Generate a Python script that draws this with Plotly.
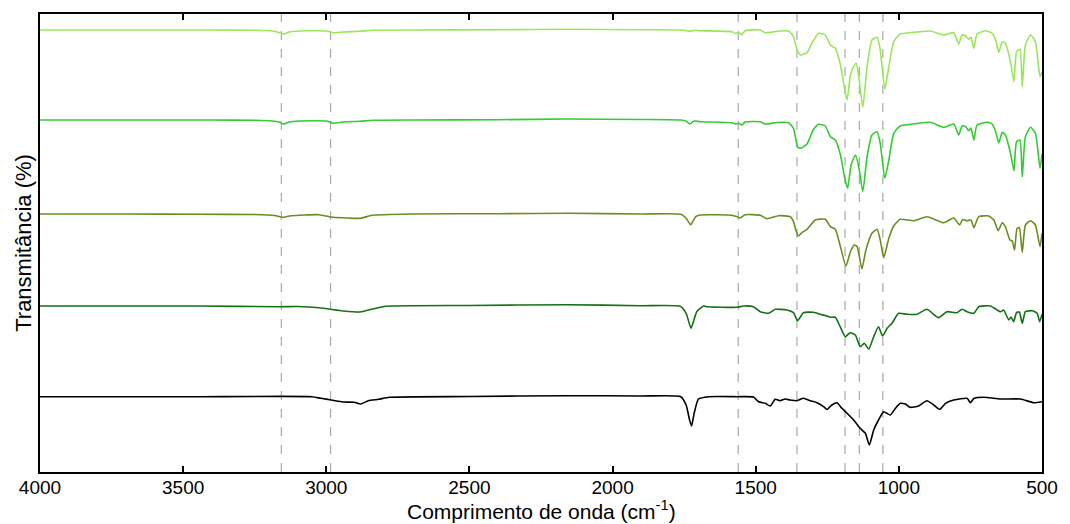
import plotly.graph_objects as go

# Wavenumber (cm-1) / stacked transmittance (arbitrary offset units) pairs
spec_1 = [(4000,442),(3700,442),(3400,442),(3250,441.7),(3190,441),(3165,439.5),(3148,438),(3130,440),(3092,441),(3040,441.3),(2999,441),(2976,439.3),(2941,440),(2883,440.7),(2836,441.7),(2700,442),(2400,442.3),(2160,442.7),(1900,442.3),(1760,442),(1745,441.5),(1729,440.8),(1712,441.8),(1694,441.3),(1583,440.3),(1572,438.7),(1560,439.5),(1548,437.3),(1537,441.3),(1484,442),(1467,439.3),(1426,440.7),(1385,441),(1368,435.3),(1356,422.7),(1344,417),(1321,419.3),(1304,428.7),(1280,438.7),(1257,437),(1239,427),(1222,423.7),(1204,407),(1190,383.7),(1181,372),(1169,397),(1158,405.3),(1149,408.7),(1140,395.3),(1126,364.7),(1111,405.3),(1094,432),(1076,434.7),(1065,422),(1049,383),(1035,405.3),(1018,430.3),(995,438),(936,440),(890,441),(843,437),(808,439.3),(791,428),(779,437),(767,436),(756,432.7),(748,434.7),(738,423.7),(727,438),(697,441.3),(674,438.7),(662,432),(651,419.7),(639,430.3),(628,428.7),(610,410.3),(598,390.3),(589,420.3),(577,422.7),(569,385.3),(558,427),(540,437),(523,430.3),(507,395.3),(500,400)]

spec_2 = [(4000,352),(3700,352),(3400,352),(3250,351.7),(3190,351),(3165,350),(3150,348),(3130,350),(3092,351),(3040,351.3),(2999,351),(2976,348.7),(2941,350),(2883,350.7),(2836,351.7),(2700,352),(2400,352.3),(2160,353),(1900,352.5),(1760,352),(1745,351),(1730,348),(1715,351),(1694,350.3),(1583,349.3),(1572,348),(1560,348.7),(1548,347),(1537,350),(1484,350.3),(1467,348),(1426,349.5),(1385,349.3),(1368,343.7),(1354,325.3),(1344,323.7),(1321,328),(1298,342.7),(1280,347.7),(1257,346),(1239,335.3),(1222,332),(1204,317),(1190,295.3),(1179,283.7),(1167,307),(1152,317),(1140,305.3),(1126,280.3),(1111,315.3),(1094,337),(1076,340.3),(1065,328.7),(1049,293.7),(1035,312),(1018,338.7),(995,346),(936,348.5),(890,349.7),(843,344.7),(808,348),(791,337),(779,346),(767,345.5),(756,341.3),(748,344),(738,332),(727,347),(691,349.7),(674,348),(662,340.3),(651,329.3),(639,339.7),(628,337),(610,318.7),(598,301),(589,330.3),(577,332),(569,295.3),(558,335.3),(540,344.7),(523,338.7),(507,303.7),(500,318)]

spec_3 = [(4000,258),(3700,258),(3442,257.7),(3250,257.5),(3180,256.5),(3154,254.7),(3123,256.3),(3025,257.3),(2976,254.7),(2927,254),(2880,253.7),(2841,256.7),(2706,258),(2400,258.3),(2154,258.7),(1900,258),(1761,257.7),(1743,253.7),(1727,247.3),(1710,255.3),(1694,257),(1583,256.7),(1566,255.3),(1554,254),(1537,257.3),(1484,256.7),(1461,253.3),(1420,256.3),(1379,255.3),(1368,250.3),(1352,236),(1339,239.3),(1321,242.7),(1292,252),(1257,252.7),(1239,245.3),(1222,242.7),(1204,225.3),(1185,206),(1169,220.3),(1156,227),(1146,225.5),(1138,215.3),(1129,203),(1115,222),(1094,238.7),(1076,242.7),(1065,232),(1053,214.3),(1035,233.7),(1018,246),(995,252.7),(948,251.3),(901,255.3),(843,249.3),(808,254),(788,247),(777,252.5),(762,251.3),(748,252),(738,244.3),(721,255.3),(686,256),(668,252),(653,241.3),(639,249.3),(628,245.3),(612,232),(604,231),(596,222),(587,243.7),(579,244.5),(569,219.7),(558,247),(540,251.3),(523,247),(507,225.3),(500,238.7)]

spec_4 = [(4000,166),(3700,166),(3442,166),(3160,165.3),(3100,165.5),(3025,164.3),(2939,161),(2882,160),(2841,162.7),(2792,165.7),(2500,166.5),(2160,167.3),(1900,166.3),(1764,165.7),(1743,158.7),(1726,143.7),(1706,160.3),(1682,166),(1671,165.3),(1566,164.7),(1543,166),(1508,165.3),(1484,160.3),(1455,158.7),(1432,162.7),(1391,162),(1368,159.3),(1354,151.3),(1333,159.3),(1298,159.7),(1274,157.7),(1251,156),(1240,154.7),(1222,154.7),(1205,145.3),(1187,135.3),(1170,139.3),(1152,137),(1135,125.3),(1121,128.7),(1105,123),(1088,135.3),(1071,145.3),(1057,136),(1041,143.7),(1024,148.7),(1001,158.7),(971,157.7),(937,157.7),(902,162.7),(861,154.3),(832,160.3),(797,159.3),(779,162.7),(762,160.3),(738,158.7),(721,165.3),(680,166),(645,160.3),(634,162),(616,152),(608,155),(599,150.3),(589,159.3),(579,160),(569,148.7),(558,160.3),(534,161.3),(517,158.7),(508,150.3),(500,157.7)]

spec_5 = [(4000,75.3),(3700,75.3),(3442,75.3),(3050,75.3),(3019,73.7),(2982,72),(2939,70),(2902,69.7),(2880,68),(2853,71.3),(2817,72.7),(2780,74.7),(2500,75.5),(2160,76.3),(1900,76),(1762,75.3),(1743,67),(1731,52),(1724,46),(1715,58.7),(1700,73),(1664,75.3),(1566,75.3),(1508,75),(1490,70.3),(1467,68.7),(1449,66),(1432,72.7),(1415,71.3),(1397,73),(1380,72),(1356,71.3),(1333,73.7),(1310,71.3),(1286,69.3),(1263,65.3),(1251,62.5),(1234,67),(1216,69.3),(1199,63.7),(1181,58.7),(1158,52),(1135,43.7),(1117,38.7),(1103,27),(1088,42),(1071,52),(1053,60.3),(1030,57),(1012,63.7),(995,68.7),(977,68),(962,64.7),(931,66),(902,71.3),(878,67),(857,62.7),(837,68.7),(808,72),(762,73.7),(750,69.3),(738,73.5),(703,74.7),(645,73),(575,73),(529,69.3),(500,70.3)]

series = [spec_1, spec_2, spec_3, spec_4, spec_5]
colors = ["#9be65a", "#33cc33", "#6b8e23", "#137313", "#000000"]

band_positions = [3157, 2985, 1561, 1356, 1188, 1138, 1056]
x_ticks = [4000, 3500, 3000, 2500, 2000, 1500, 1000, 500]
x_title = "Comprimento de onda (cm<sup>-1</sup>)"
y_title = "Transmitância (%)"

fig = go.Figure()
for s, c in zip(series, colors):
    fig.add_trace(go.Scatter(
        x=[p[0] for p in s], y=[p[1] for p in s], mode="lines",
        line=dict(color=c, width=1.6, shape="spline", smoothing=0.5),
        showlegend=False, hoverinfo="skip"))

for b in band_positions:
    fig.add_shape(type="line", x0=b, x1=b, y0=0, y1=1, xref="x", yref="paper",
                  line=dict(color="#aaaaaa", width=1.2, dash="dash"), layer="below")

font_family = "Arial, Liberation Sans, sans-serif"
fig.add_annotation(text=x_title, xref="paper", yref="paper", x=0.5, y=-0.116,
                   xanchor="center", yanchor="bottom", showarrow=False,
                   font=dict(size=21, family=font_family, color="black"))

fig.update_layout(
    width=1070, height=524,
    margin=dict(l=40, r=28, t=14, b=52),
    paper_bgcolor="white", plot_bgcolor="white",
    font=dict(family=font_family, color="black", size=19),
    xaxis=dict(range=[4000, 500], tickvals=x_ticks, ticks="inside", ticklen=6,
               tickwidth=1.5, tickcolor="black", automargin=False,
               ticklabelstandoff=-3,
               showline=True, linecolor="black", linewidth=1.8, mirror="ticks",
               showgrid=False, zeroline=False,
               tickfont=dict(size=19, family=font_family)),
    yaxis=dict(range=[0, 458], showticklabels=False, ticks="", automargin=False,
               showline=True, linecolor="black", linewidth=1.8, mirror=True,
               showgrid=False, zeroline=False,
               title=dict(text=y_title,
                          font=dict(size=22, family=font_family), standoff=0)),
)

fig.write_html("out.html", config={"displayModeBar": False},
               post_script="document.body.style.margin='0';document.body.style.overflow='hidden';")
